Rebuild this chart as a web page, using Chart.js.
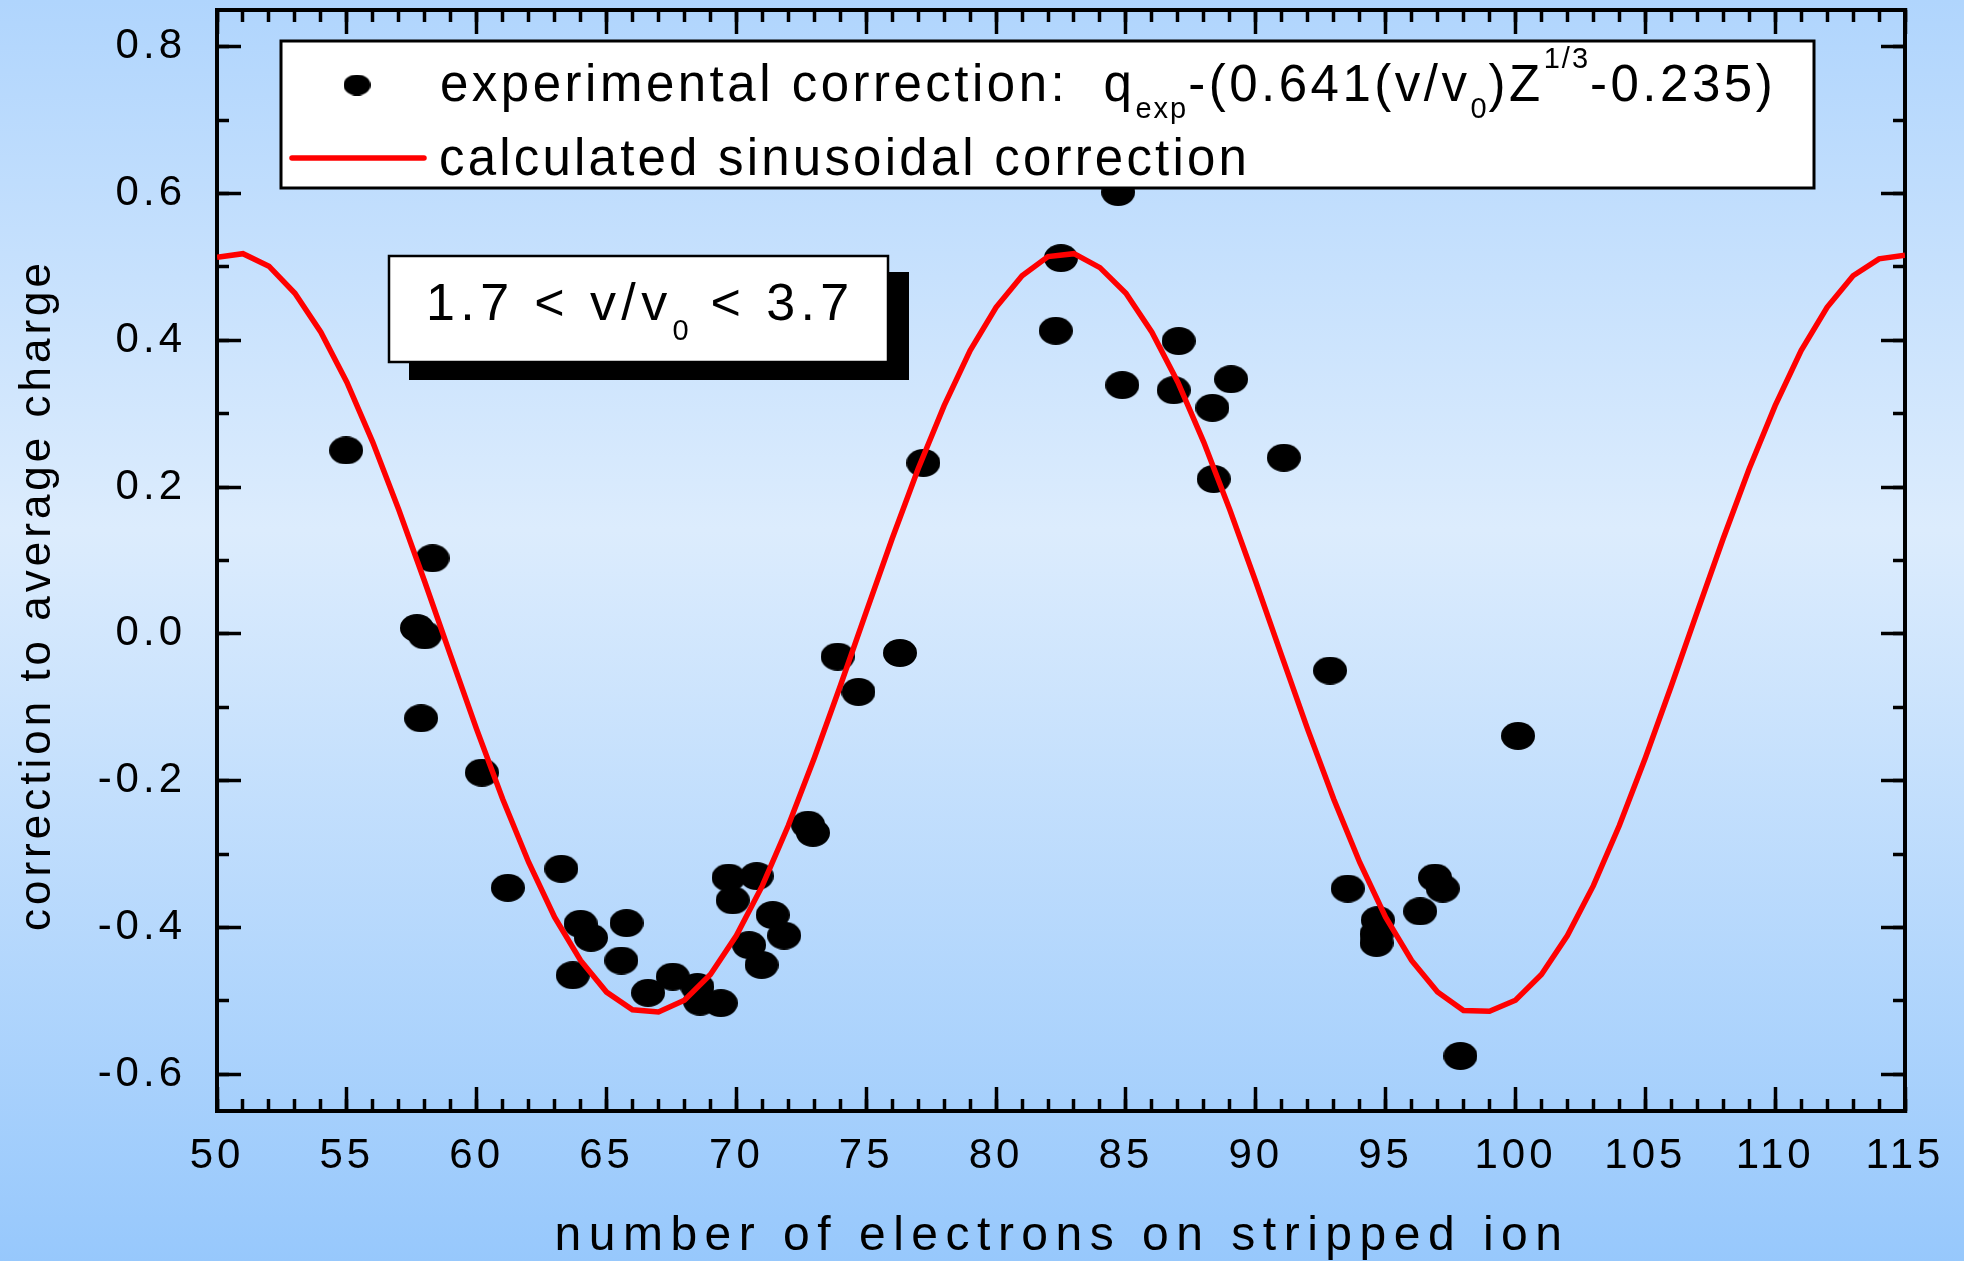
<!DOCTYPE html>
<html>
<head>
<meta charset="utf-8">
<script src="https://cdn.jsdelivr.net/npm/chart.js@4.4.1/dist/chart.umd.min.js"></script>
<style>
  html, body { margin: 0; padding: 0; background: #b8d9fc; overflow: hidden; }
  #wrap { width: 1964px; height: 1261px; }
</style>
</head>
<body>
<div id="wrap"><canvas id="chart" width="1964" height="1261"></canvas></div>
<script>
// measured corrections: electron number vs. correction to average charge
const expElectrons = [54.97, 57.70, 58.00, 58.30, 57.86, 60.20, 61.20, 63.26, 63.70, 64.00,
  64.40, 65.77, 65.57, 66.60, 67.55, 68.50, 68.60, 69.40, 69.70, 69.86,
  70.78, 70.49, 70.97, 71.40, 71.84, 72.76, 72.95, 73.90, 74.70, 76.30,
  77.20, 82.30, 82.50, 84.70, 84.86, 87.03, 86.84, 88.33, 89.05, 88.38,
  91.08, 92.86, 93.54, 94.70, 94.65, 94.65, 96.33, 96.90, 97.20, 97.88, 100.10];
const expCorrection = [0.250, 0.008, -0.002, 0.103, -0.115, -0.189, -0.346, -0.320, -0.465, -0.395,
  -0.414, -0.394, -0.445, -0.489, -0.467, -0.481, -0.501, -0.503, -0.332, -0.363,
  -0.330, -0.424, -0.451, -0.383, -0.411, -0.260, -0.271, -0.031, -0.079, -0.026,
  0.233, 0.413, 0.512, 0.602, 0.339, 0.399, 0.332, 0.308, 0.347, 0.211,
  0.240, -0.050, -0.347, -0.390, -0.409, -0.421, -0.378, -0.332, -0.347, -0.575, -0.139];

// calculated sinusoidal correction, one value per integer electron number
const fitElectrons = [50, 51, 52, 53, 54, 55, 56, 57, 58, 59, 60, 61, 62, 63, 64, 65, 66, 67, 68, 69,
  70, 71, 72, 73, 74, 75, 76, 77, 78, 79, 80, 81, 82, 83, 84, 85, 86, 87, 88, 89,
  90, 91, 92, 93, 94, 95, 96, 97, 98, 99, 100, 101, 102, 103, 104, 105, 106, 107, 108, 109,
  110, 111, 112, 113, 114, 115];
const fitCorrection = [0.513, 0.518, 0.501, 0.464, 0.411, 0.343, 0.261, 0.169, 0.071, -0.030,
  -0.130, -0.225, -0.311, -0.386, -0.445, -0.488, -0.512, -0.515, -0.499, -0.464,
  -0.411, -0.343, -0.261, -0.169, -0.071, 0.030, 0.130, 0.225, 0.311, 0.386,
  0.445, 0.488, 0.514, 0.518, 0.499, 0.464, 0.411, 0.343, 0.261, 0.169,
  0.071, -0.030, -0.130, -0.225, -0.311, -0.386, -0.445, -0.488, -0.513, -0.514,
  -0.499, -0.464, -0.411, -0.343, -0.261, -0.169, -0.071, 0.030, 0.130, 0.225,
  0.311, 0.386, 0.445, 0.488, 0.511, 0.516];

// axis ticks
const xTickValues = [50, 55, 60, 65, 70, 75, 80, 85, 90, 95, 100, 105, 110, 115];
const yTickValues = [-0.6, -0.4, -0.2, 0.0, 0.2, 0.4, 0.6, 0.8];
const yMinorValues = [-0.6, -0.5, -0.4, -0.3, -0.2, -0.1, 0.0, 0.1, 0.2, 0.3, 0.4, 0.5, 0.6, 0.7, 0.8];

const FONT = '"Liberation Sans", Arial, Helvetica, sans-serif';
const xRange = { min: 50, max: 115 };
const yRange = { min: -0.65, max: 0.85 };

// filled ellipse used as the scatter marker
function ellipseMarker(w, h) {
  const c = document.createElement('canvas');
  c.width = w; c.height = h;
  const g = c.getContext('2d');
  g.fillStyle = '#000';
  g.beginPath();
  g.ellipse(w / 2, h / 2, w / 2, h / 2, 0, 0, Math.PI * 2);
  g.fill();
  return c;
}

// force a scale box to a fixed thickness and drop label overflow padding
function pinSize(size) {
  return s => {
    if (s.isHorizontal()) s.height = size; else s.width = size;
    s.paddingLeft = s.paddingRight = s.paddingTop = s.paddingBottom = 0;
  };
}

// one set of inward tick marks along a frame edge
function edgeAxis(axis, position, values, len, weight, size, frame, labels) {
  const range = axis === 'x' ? xRange : yRange;
  return {
    type: 'linear', axis, position, weight,
    min: range.min, max: range.max, bounds: 'data',
    afterBuildTicks: s => { s.ticks = values.map(v => ({ value: v })); },
    afterFit: pinSize(size),
    border: { display: frame, width: 4, color: '#000' },
    grid: { display: true, drawOnChartArea: false, drawTicks: true,
            tickLength: -len, tickWidth: 3.5, tickColor: '#000' },
    ticks: labels || { display: false }
  };
}

// draw a line of text made of runs (sub/superscripts shifted by dy)
function drawRuns(ctx, x, y, runs, spacing) {
  for (const r of runs) {
    ctx.font = r.size + 'px ' + FONT;
    ctx.letterSpacing = (r.sp !== undefined ? r.sp : spacing) + 'px';
    ctx.fillText(r.text, x, y + (r.dy || 0));
    x += ctx.measureText(r.text).width;
  }
}

const backdrop = {
  id: 'backdrop',
  beforeDraw(chart) {
    const { ctx, width, height } = chart;
    const g = ctx.createLinearGradient(0, 0, 0, height);
    g.addColorStop(0, '#b0d5fd');
    g.addColorStop(0.42, '#dcecfd');
    g.addColorStop(1, '#97c8fc');
    ctx.save();
    ctx.fillStyle = g;
    ctx.fillRect(0, 0, width, height);
    ctx.restore();
    ctx.letterSpacing = '4px';
  }
};

const annotations = {
  id: 'annotations',
  afterDatasetsDraw(chart) {
    const ctx = chart.ctx;
    ctx.save();
    ctx.textAlign = 'left';
    ctx.textBaseline = 'alphabetic';

    // legend box
    ctx.fillStyle = '#fff';
    ctx.fillRect(281, 41, 1533, 147);
    ctx.strokeStyle = '#000';
    ctx.lineWidth = 3;
    ctx.strokeRect(281, 41, 1533, 147);

    ctx.drawImage(ellipseMarker(27, 21), 357 - 13.5, 85 - 10.5);
    ctx.strokeStyle = '#ff0000';
    ctx.lineWidth = 5.5;
    ctx.lineCap = 'round';
    ctx.beginPath();
    ctx.moveTo(292, 158);
    ctx.lineTo(424, 158);
    ctx.stroke();

    ctx.fillStyle = '#000';
    drawRuns(ctx, 440, 101, [
      { text: 'experimental correction:  q', size: 51 },
      { text: 'exp', size: 29, dy: 17, sp: 2 },
      { text: '-(0.641(v/v', size: 51 },
      { text: '0', size: 29, dy: 17, sp: 2 },
      { text: ')Z', size: 51 },
      { text: '1/3', size: 29, dy: -33, sp: 2 },
      { text: '-0.235)', size: 51 }
    ], 3.5);
    drawRuns(ctx, 439, 175, [{ text: 'calculated sinusoidal correction', size: 51 }], 3.2);

    // velocity range box with drop shadow
    ctx.fillStyle = '#000';
    ctx.fillRect(409, 272, 500, 108);
    ctx.fillStyle = '#fff';
    ctx.fillRect(389, 256, 499, 106);
    ctx.strokeStyle = '#000';
    ctx.lineWidth = 2.5;
    ctx.strokeRect(389, 256, 499, 106);
    ctx.fillStyle = '#000';
    drawRuns(ctx, 426, 320, [
      { text: '1.7 < v/v', size: 52 },
      { text: '0', size: 29, dy: 20, sp: 2 },
      { text: ' < 3.7', size: 52 }
    ], 5.4);
    ctx.restore();
  },
  afterDraw(chart) {
    const ctx = chart.ctx;
    ctx.save();
    ctx.fillStyle = '#000';
    ctx.textAlign = 'center';
    ctx.textBaseline = 'alphabetic';
    ctx.font = '48px ' + FONT;
    ctx.letterSpacing = '7.5px';
    ctx.fillText('number of electrons on stripped ion', 1062, 1250);

    ctx.translate(50, 595);
    ctx.rotate(-Math.PI / 2);
    ctx.font = '44px ' + FONT;
    ctx.letterSpacing = '4px';
    ctx.fillText('correction to average charge', 0, 0);
    ctx.restore();
  }
};

const dotMarker = ellipseMarker(34, 28);

new Chart(document.getElementById('chart'), {
  type: 'scatter',
  data: {
    datasets: [
      {
        label: 'experimental correction',
        data: expElectrons.map((x, i) => ({ x, y: expCorrection[i] })),
        pointStyle: dotMarker,
        pointRadius: 14,
        backgroundColor: '#000',
        borderColor: '#000',
        order: 1
      },
      {
        label: 'calculated sinusoidal correction',
        data: fitElectrons.map((x, i) => ({ x, y: fitCorrection[i] })),
        showLine: true,
        borderColor: '#ff0000',
        borderWidth: 5.5,
        pointRadius: 0,
        tension: 0,
        order: 0
      }
    ]
  },
  options: {
    responsive: false,
    devicePixelRatio: 1,
    animation: false,
    events: [],
    layout: { autoPadding: false, padding: { top: 10, right: 59, bottom: 0, left: 0 } },
    plugins: {
      legend: { display: false },
      tooltip: { enabled: false }
    },
    scales: {
      x: edgeAxis('x', 'bottom', xTickValues, 24, 1, 150, true, {
        display: true, autoSkip: false, maxRotation: 0, padding: 44,
        color: '#000', font: { family: FONT, size: 42 },
        callback: v => String(v)
      }),
      xMinor: edgeAxis('x', 'bottom', fitElectrons, 12, 0, 0, false),
      xTop: edgeAxis('x', 'top', xTickValues, 24, 1, 0, true),
      xTopMinor: edgeAxis('x', 'top', fitElectrons, 12, 0, 0, false),
      y: edgeAxis('y', 'left', yTickValues, 24, 1, 217, true, {
        display: true, autoSkip: false, padding: 55,
        color: '#000', font: { family: FONT, size: 42 },
        callback: v => (Math.abs(v) < 1e-9 ? 0 : v).toFixed(1)
      }),
      yMinor: edgeAxis('y', 'left', yMinorValues, 12, 0, 0, false),
      yRight: edgeAxis('y', 'right', yTickValues, 24, 1, 0, true),
      yRightMinor: edgeAxis('y', 'right', yMinorValues, 12, 0, 0, false)
    }
  },
  plugins: [backdrop, annotations]
});
</script>
</body>
</html>
